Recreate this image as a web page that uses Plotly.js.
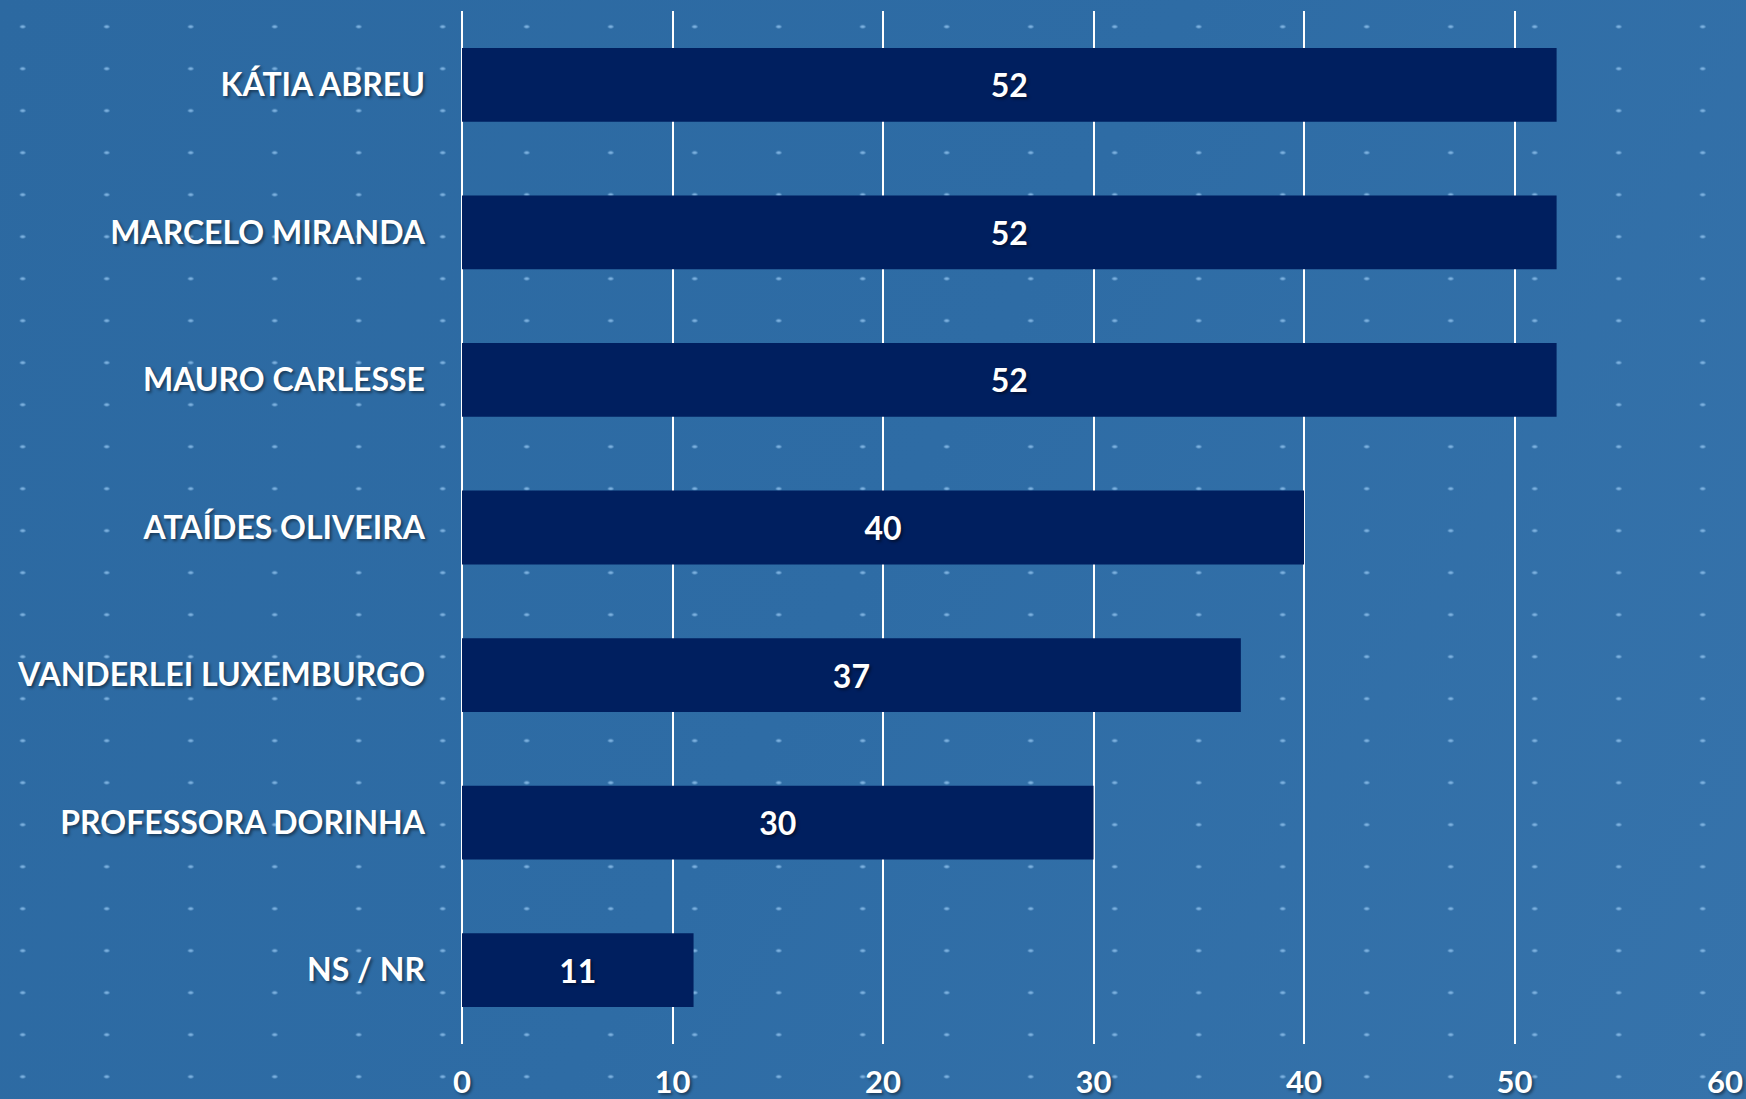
<!DOCTYPE html>
<html>
<head>
<meta charset="utf-8">
<script src="https://cdn.plot.ly/plotly-3.0.1.min.js"></script>
<style>
  html, body { margin: 0; padding: 0; overflow: hidden; }
  body {
    width: 1746px; height: 1099px;
    background-color: #2E6CA4;
    background-image:
      radial-gradient(ellipse 3.5px 2px at 42px 21px, rgba(145,195,238,0.95) 0%, rgba(145,195,238,0.6) 60%, rgba(145,195,238,0) 100%),
      linear-gradient(120deg, #2C69A1 0%, #2E6CA5 50%, #3673AB 100%);
    background-size: 84px 42px, 100% 100%;
    background-position: -19.3px 5.7px, 0 0;
    background-repeat: repeat, no-repeat;
  }
  #chart { width: 1746px; height: 1099px; }
</style>
</head>
<body>
<div id="chart"></div>
<script>
const categories = ['KÁTIA ABREU', 'MARCELO MIRANDA', 'MAURO CARLESSE', 'ATAÍDES OLIVEIRA', 'VANDERLEI LUXEMBURGO', 'PROFESSORA DORINHA', 'NS / NR'];
const values = [52, 52, 52, 40, 37, 30, 11];
const xTicks = [0, 10, 20, 30, 40, 50, 60];

const textShadow = '2px 2px 3px rgba(0,0,0,0.45)';
const fontFamily = 'Lato, "Open Sans", sans-serif';

const trace = {
  type: 'bar',
  orientation: 'h',
  x: values,
  y: categories,
  marker: { color: '#001F5F', line: { width: 0 } },
  text: values.map(String),
  textposition: 'inside',
  insidetextanchor: 'middle',
  textangle: 0,
  textfont: { family: fontFamily, size: 32, color: '#FFFFFF', weight: 'bold', shadow: textShadow },
  hoverinfo: 'none'
};

const layout = {
  width: 1746,
  height: 1099,
  paper_bgcolor: 'rgba(0,0,0,0)',
  plot_bgcolor: 'rgba(0,0,0,0)',
  margin: { l: 462, r: 21, t: 11, b: 55, pad: 0 },
  bargap: 0.5,
  showlegend: false,
  xaxis: {
    range: [0, 60],
    tickvals: xTicks,
    ticktext: xTicks.map(String),
    showgrid: true,
    gridcolor: '#FFFFFF',
    gridwidth: 2,
    zeroline: true,
    zerolinecolor: '#FFFFFF',
    zerolinewidth: 2,
    showline: false,
    ticks: '',
    ticklabelstandoff: 17,
    tickfont: { family: fontFamily, size: 31, color: '#FFFFFF', weight: 'bold', shadow: textShadow },
    fixedrange: true
  },
  yaxis: {
    autorange: 'reversed',
    showgrid: false,
    zeroline: false,
    showline: false,
    ticks: '',
    ticklabelstandoff: 36,
    tickfont: { family: fontFamily, size: 32, color: '#FFFFFF', weight: 'bold', shadow: textShadow },
    fixedrange: true
  }
};

Plotly.newPlot('chart', [trace], layout, { displayModeBar: false, staticPlot: true });
</script>
</body>
</html>
